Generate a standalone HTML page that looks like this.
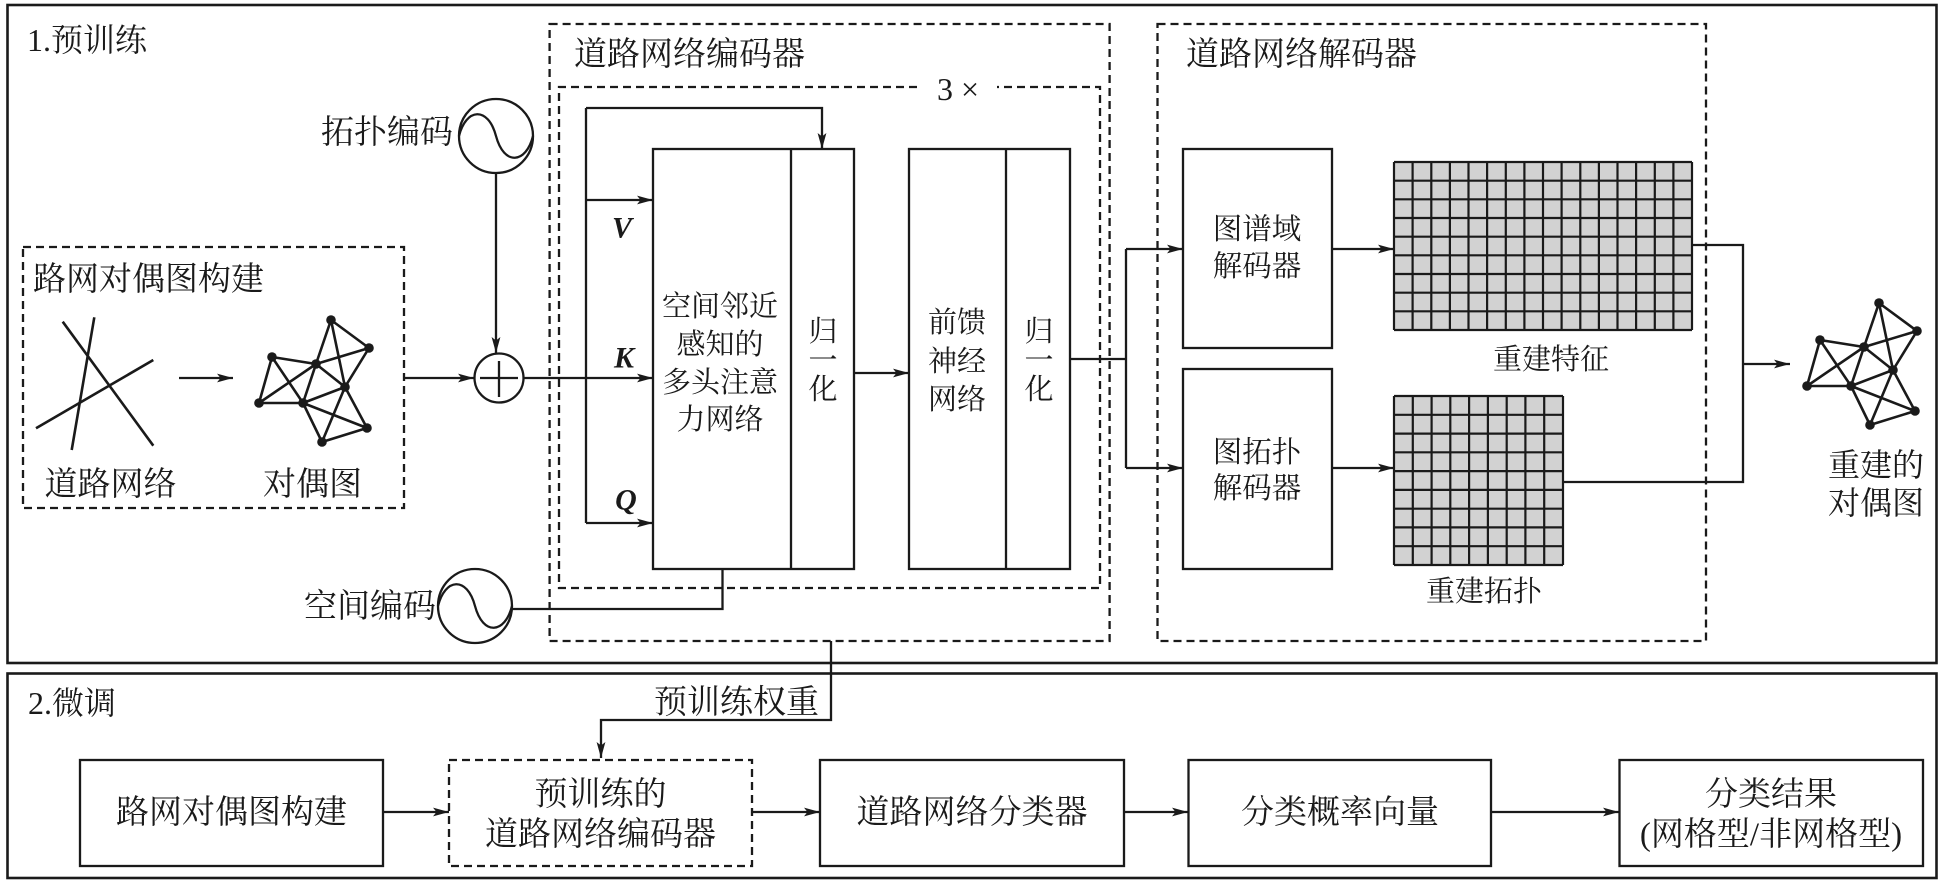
<!DOCTYPE html>
<html>
<head>
<meta charset="utf-8">
<style>
html,body{margin:0;padding:0;background:#fff;}
svg{display:block;}
.t{font-family:"Liberation Serif","Noto Serif CJK SC","Noto Serif CJK TC","Noto Serif CJK JP",serif;fill:#1a1a1a;}
.s{stroke:#1a1a1a;fill:none;stroke-width:2.3;}
.d{stroke:#1a1a1a;fill:none;stroke-width:2.3;stroke-dasharray:8 5;}
.qkv{font-family:"Liberation Serif",serif;font-weight:bold;font-style:italic;font-size:30px;fill:#1a1a1a;}
</style>
</head>
<body>
<svg width="1942" height="887" viewBox="0 0 1942 887" xmlns="http://www.w3.org/2000/svg">
<defs>
<marker id="ah" viewBox="0 0 16 10" refX="16" refY="5" markerWidth="16" markerHeight="10" markerUnits="userSpaceOnUse" orient="auto">
<path d="M0,0.6 L16,5 L0,9.4 L3.5,5z" fill="#1a1a1a"/>
</marker>
<g id="graph">
<g stroke="#1a1a1a" stroke-width="2.6" fill="none">
<path d="M331,320L369,348M331,320L316,364M331,320L345,387M369,348L316,364M369,348L345,387M272,357L316,364M272,357L259,403M272,357L303,403M316,364L259,403M316,364L345,387M316,364L303,403M259,403L303,403M303,403L345,387M303,403L367,428M303,403L322,442M345,387L322,442M345,387L367,428M367,428L322,442"/>
</g>
<g fill="#1a1a1a">
<circle cx="331" cy="320" r="4.8"/><circle cx="369" cy="348" r="4.8"/><circle cx="272" cy="357" r="4.8"/>
<circle cx="316" cy="364" r="4.8"/><circle cx="345" cy="387" r="4.8"/><circle cx="259" cy="403" r="4.8"/>
<circle cx="303" cy="403" r="4.8"/><circle cx="367" cy="428" r="4.8"/><circle cx="322" cy="442" r="4.8"/>
</g>
</g>
</defs>
<rect x="0" y="0" width="1942" height="887" fill="#fff"/>

<rect x="7.5" y="5" width="1929" height="658" fill="none" stroke="#1a1a1a" stroke-width="2.6"/>
<rect x="7.5" y="673.5" width="1929" height="204.5" fill="none" stroke="#1a1a1a" stroke-width="2.6"/>

<text class="t" x="27" y="40" font-size="32" dominant-baseline="central">1.预训练</text>

<rect x="23" y="247" width="381" height="261" class="d"/>
<text class="t" x="33" y="280" font-size="33" dominant-baseline="central">路网对偶图构建</text>
<g stroke="#1a1a1a" stroke-width="2.6">
<line x1="62.7" y1="321.7" x2="153.3" y2="445.7"/>
<line x1="94.3" y1="317.3" x2="71.7" y2="450"/>
<line x1="153.3" y1="360" x2="36" y2="428.3"/>
</g>
<line x1="179" y1="378" x2="233" y2="378" class="s" stroke-width="2.6" marker-end="url(#ah)"/>
<use href="#graph"/>
<text class="t" x="110.5" y="485" font-size="33" text-anchor="middle" dominant-baseline="central">道路网络</text>
<text class="t" x="312.5" y="485" font-size="33" text-anchor="middle" dominant-baseline="central">对偶图</text>

<line x1="404" y1="378" x2="474" y2="378" class="s" marker-end="url(#ah)"/>
<circle cx="499" cy="378" r="24.5" class="s"/>
<line x1="480" y1="378" x2="518" y2="378" class="s"/>
<line x1="499" y1="361" x2="499" y2="397" class="s"/>

<circle cx="496" cy="136" r="37" class="s"/>
<path d="M459,136 C466,108 488,106 496,136 C504,166 526,164 533,136" class="s" stroke-width="2.6"/>
<text class="t" x="453" y="133" font-size="33" text-anchor="end" dominant-baseline="central">拓扑编码</text>
<line x1="496" y1="173" x2="496" y2="353" class="s" marker-end="url(#ah)"/>

<circle cx="475" cy="606" r="37" class="s"/>
<path d="M438,606 C445,578 467,576 475,606 C483,636 505,634 512,606" class="s" stroke-width="2.6"/>
<text class="t" x="436" y="607" font-size="33" text-anchor="end" dominant-baseline="central">空间编码</text>
<path d="M512,609 H722.5 V569" class="s"/>

<line x1="523.5" y1="378" x2="653" y2="378" class="s" marker-end="url(#ah)"/>

<rect x="549.6" y="24" width="560" height="617" class="d"/>
<text class="t" x="574" y="55" font-size="33" dominant-baseline="central">道路网络编码器</text>
<path d="M917,87 H559 V588 H1100 V87 H997" class="d"/>
<text class="t" x="958" y="89" font-size="32" text-anchor="middle" dominant-baseline="central">3 ×</text>

<line x1="586" y1="108" x2="586" y2="523" class="s"/>
<path d="M586,108 H822 V149" class="s" marker-end="url(#ah)"/>
<line x1="586" y1="200" x2="653" y2="200" class="s" marker-end="url(#ah)"/>
<line x1="586" y1="523" x2="653" y2="523" class="s" marker-end="url(#ah)"/>
<text class="qkv" x="622" y="228" text-anchor="middle" dominant-baseline="central">V</text>
<text class="qkv" x="624" y="358" text-anchor="middle" dominant-baseline="central">K</text>
<text class="qkv" x="626" y="500" text-anchor="middle" dominant-baseline="central">Q</text>

<rect x="653" y="149" width="201" height="420" class="s"/>
<line x1="791" y1="149" x2="791" y2="569" class="s"/>
<g class="t" font-size="29" text-anchor="middle" dominant-baseline="central">
<text x="720" y="307">空间邻近</text>
<text x="720" y="345">感知的</text>
<text x="720" y="383">多头注意</text>
<text x="720" y="420">力网络</text>
<text x="823" y="332">归</text>
<text x="823" y="361">一</text>
<text x="823" y="390">化</text>
</g>
<line x1="854" y1="373" x2="909" y2="373" class="s" marker-end="url(#ah)"/>
<rect x="909" y="149" width="161" height="420" class="s"/>
<line x1="1006" y1="149" x2="1006" y2="569" class="s"/>
<g class="t" font-size="29" text-anchor="middle" dominant-baseline="central">
<text x="957" y="323">前馈</text>
<text x="957" y="362">神经</text>
<text x="957" y="400">网络</text>
<text x="1039" y="332">归</text>
<text x="1039" y="361">一</text>
<text x="1039" y="390">化</text>
</g>

<path d="M1070,359 H1126" class="s"/>
<line x1="1126" y1="249" x2="1126" y2="468" class="s"/>
<line x1="1126" y1="249" x2="1183" y2="249" class="s" marker-end="url(#ah)"/>
<line x1="1126" y1="468" x2="1183" y2="468" class="s" marker-end="url(#ah)"/>

<rect x="1157.5" y="24" width="548.5" height="617" class="d"/>
<text class="t" x="1186" y="55" font-size="33" dominant-baseline="central">道路网络解码器</text>

<rect x="1183" y="149" width="149" height="199" class="s"/>
<rect x="1183" y="369" width="149" height="200" class="s"/>
<g class="t" font-size="29.5" text-anchor="middle" dominant-baseline="central">
<text x="1257" y="230">图谱域</text>
<text x="1257" y="267">解码器</text>
<text x="1257" y="453">图拓扑</text>
<text x="1257" y="489">解码器</text>
</g>
<line x1="1332" y1="249" x2="1394" y2="249" class="s" marker-end="url(#ah)"/>
<line x1="1332" y1="468" x2="1394" y2="468" class="s" marker-end="url(#ah)"/>

<rect x="1394" y="162" width="298" height="168" fill="#d2d2d2"/>
<path stroke="#1a1a1a" stroke-width="2.2" fill="none" d="M1394 162V330M1412.6 162V330M1431.3 162V330M1449.9 162V330M1468.5 162V330M1487.1 162V330M1505.8 162V330M1524.4 162V330M1543 162V330M1561.6 162V330M1580.3 162V330M1598.9 162V330M1617.5 162V330M1636.1 162V330M1654.8 162V330M1673.4 162V330M1692 162V330M1394 162H1692M1394 180.7H1692M1394 199.3H1692M1394 218H1692M1394 236.7H1692M1394 255.3H1692M1394 274H1692M1394 292.7H1692M1394 311.3H1692M1394 330H1692"/>
<text class="t" x="1551" y="360" font-size="29" text-anchor="middle" dominant-baseline="central">重建特征</text>

<rect x="1394" y="396" width="169" height="169" fill="#d2d2d2"/>
<path stroke="#1a1a1a" stroke-width="2.2" fill="none" d="M1394 396V565M1412.8 396V565M1431.6 396V565M1450.3 396V565M1469.1 396V565M1487.9 396V565M1506.7 396V565M1525.4 396V565M1544.2 396V565M1563 396V565M1394 396H1563M1394 414.8H1563M1394 433.6H1563M1394 452.3H1563M1394 471.1H1563M1394 489.9H1563M1394 508.7H1563M1394 527.4H1563M1394 546.2H1563M1394 565H1563"/>
<text class="t" x="1484" y="592" font-size="29" text-anchor="middle" dominant-baseline="central">重建拓扑</text>

<path d="M1692,245 H1743 V482 H1563" class="s"/>
<line x1="1743" y1="364" x2="1790" y2="364" class="s" marker-end="url(#ah)"/>
<use href="#graph" transform="translate(1548,-17)"/>
<text class="t" x="1876" y="465" font-size="32" text-anchor="middle" dominant-baseline="central">重建的</text>
<text class="t" x="1876" y="503" font-size="32" text-anchor="middle" dominant-baseline="central">对偶图</text>

<text class="t" x="28" y="703" font-size="32" dominant-baseline="central">2.微调</text>
<text class="t" x="819" y="703" font-size="33" text-anchor="end" dominant-baseline="central">预训练权重</text>
<path d="M831,641 V720 H601 V758" class="s" marker-end="url(#ah)"/>

<rect x="80" y="760" width="303" height="106" class="s"/>
<text class="t" x="231.5" y="813" font-size="33" text-anchor="middle" dominant-baseline="central">路网对偶图构建</text>
<line x1="383" y1="812" x2="449" y2="812" class="s" marker-end="url(#ah)"/>

<rect x="449" y="760" width="303" height="106" class="d"/>
<text class="t" x="600.5" y="795" font-size="33" text-anchor="middle" dominant-baseline="central">预训练的</text>
<text class="t" x="600.5" y="835" font-size="33" text-anchor="middle" dominant-baseline="central">道路网络编码器</text>
<line x1="752" y1="812" x2="820" y2="812" class="s" marker-end="url(#ah)"/>

<rect x="820" y="760" width="304" height="106" class="s"/>
<text class="t" x="972" y="813" font-size="33" text-anchor="middle" dominant-baseline="central">道路网络分类器</text>
<line x1="1124" y1="812" x2="1188" y2="812" class="s" marker-end="url(#ah)"/>

<rect x="1188.5" y="760" width="302.5" height="106" class="s"/>
<text class="t" x="1340" y="813" font-size="33" text-anchor="middle" dominant-baseline="central">分类概率向量</text>
<line x1="1491" y1="812" x2="1619" y2="812" class="s" marker-end="url(#ah)"/>

<rect x="1619.5" y="760" width="303.5" height="106" class="s"/>
<text class="t" x="1771" y="795" font-size="33" text-anchor="middle" dominant-baseline="central">分类结果</text>
<text class="t" x="1771" y="835" font-size="33" text-anchor="middle" dominant-baseline="central">(网格型/非网格型)</text>
</svg>
</body>
</html>
